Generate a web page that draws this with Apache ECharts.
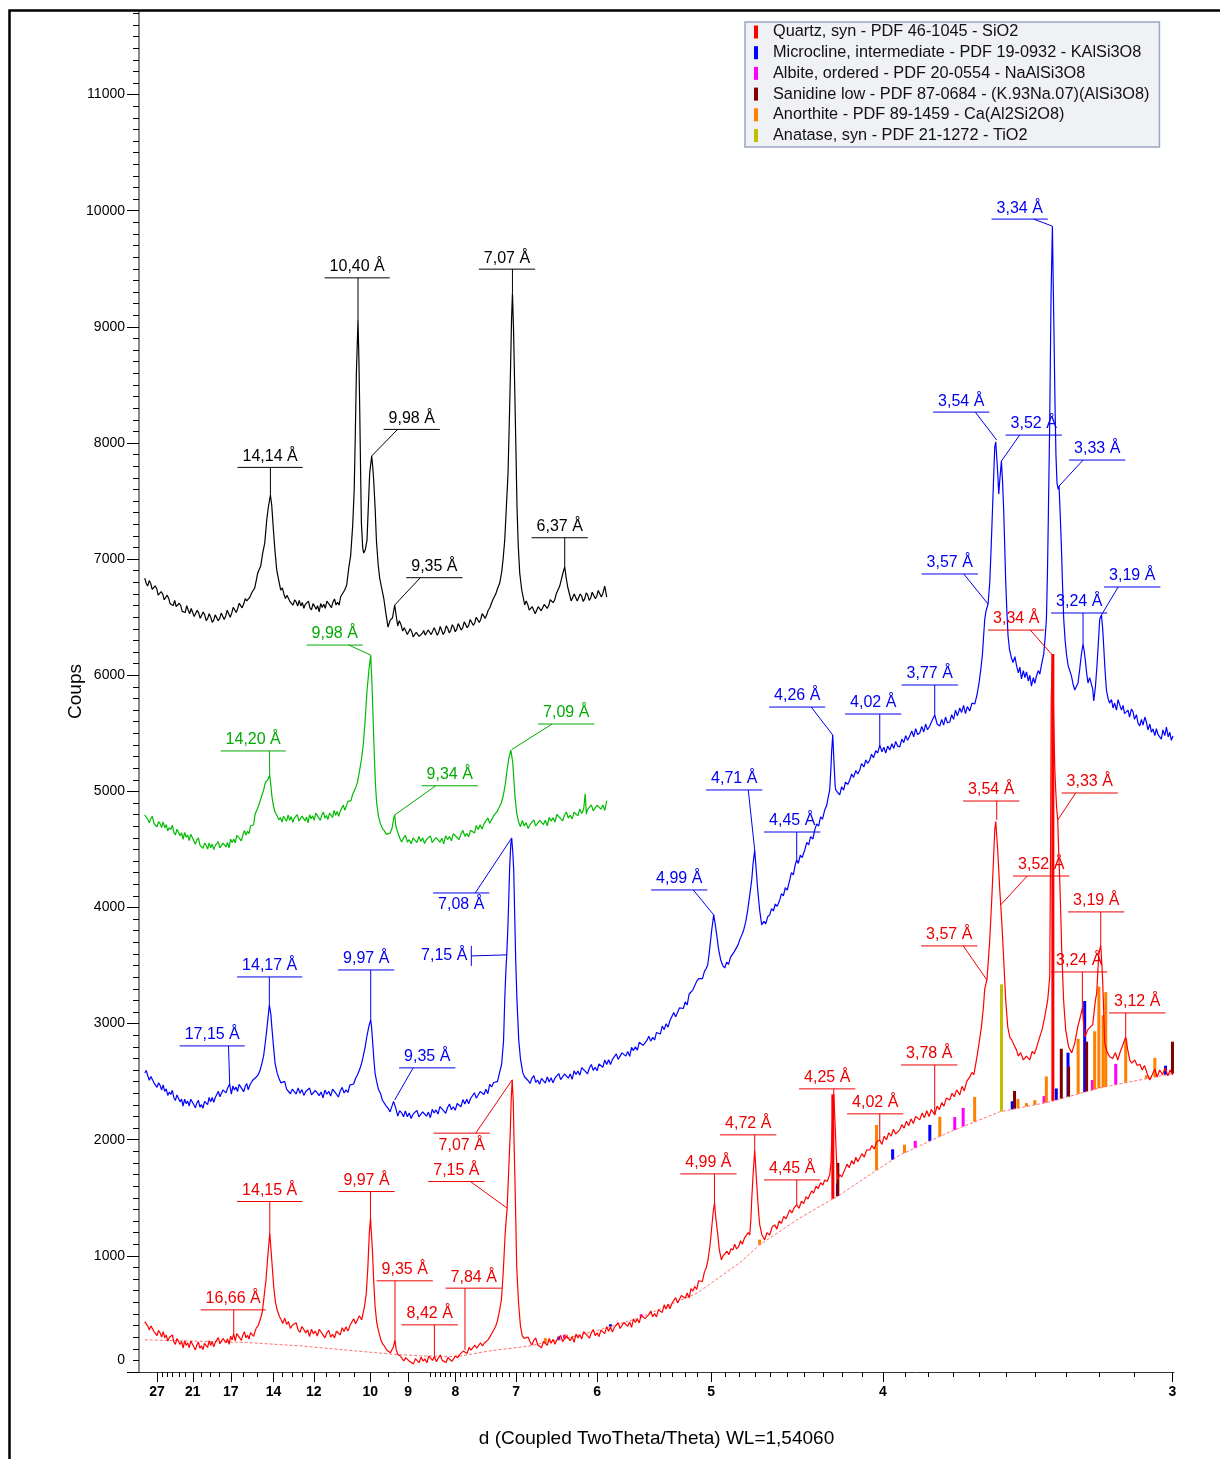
<!DOCTYPE html>
<html><head><meta charset="utf-8">
<script src="https://cdn.jsdelivr.net/npm/echarts@6/dist/echarts.min.js"></script>
<style>html,body{margin:0;padding:0;background:#fff}#c{width:1220px;height:1459px}</style>
</head><body><div id="c"></div>
<script>
// ---------- axis definitions ----------
const WL = 1.5406;
const dMajorTicks = [27,21,17,14,12,10,9,8,7,6,5,4,3];
const dMinorTicks = [26,25,24,23,22,20,19,18,16,15,13.5,13,12.5,11.5,11,10.5,9.5,8.5,8.4,8.3,8.2,8.1,
  7.9,7.8,7.7,7.6,7.5,7.4,7.3,7.2,7.1,6.9,6.8,6.7,6.6,6.5,6.4,6.3,6.2,6.1,
  5.9,5.8,5.7,5.6,5.5,5.4,5.3,5.2,5.1,4.9,4.8,4.7,4.6,4.5,4.4,4.3,4.2,4.1,
  3.9,3.8,3.7,3.6,3.5,3.4,3.3,3.2,3.1];
const yLabelPos = [100,1000,2000,3000,4000,5000,6000,7000,8000,9000,10000,11000];
const yLabelText = ['0','1000','2000','3000','4000','5000','6000','7000','8000','9000','10000','11000'];
const yMajorTicks = [0,1000,2000,3000,4000,5000,6000,7000,8000,9000,10000,11000];

// ---------- measured patterns: [2theta, counts] ----------
const blackPattern = [[2.949,6837],[2.99,6790],[3.027,6770],[3.066,6815],[3.105,6790],[3.144,6740],[3.183,6725],[3.222,6770],[3.262,6745],[3.30,6690],[3.340,6680],[3.379,6720],[3.418,6700],[3.457,6650],[3.497,6645],[3.536,6690],[3.575,6660],[3.614,6615],[3.653,6620],[3.692,6600],[3.731,6645],[3.770,6590],[3.810,6575],[3.849,6620],[3.888,6600],[3.927,6550],[3.966,6565],[4.005,6540],[4.045,6600],[4.084,6560],[4.123,6530],[4.162,6575],[4.201,6560],[4.240,6505],[4.279,6520],[4.318,6560],[4.358,6535],[4.397,6490],[4.436,6505],[4.475,6545],[4.514,6520],[4.553,6470],[4.592,6490],[4.631,6530],[4.671,6500],[4.710,6455],[4.749,6475],[4.788,6520],[4.827,6515],[4.866,6470],[4.906,6490],[4.945,6535],[4.984,6525],[5.023,6480],[5.062,6510],[5.101,6560],[5.140,6545],[5.180,6500],[5.219,6535],[5.258,6585],[5.297,6570],[5.336,6540],[5.375,6575],[5.414,6620],[5.453,6600],[5.492,6580],[5.532,6615],[5.571,6660],[5.610,6640],[5.649,6625],[5.688,6670],[5.727,6700],[5.766,6725],[5.819,6751],[5.897,6880],[5.975,6940],[6.027,7052],[6.080,7138],[6.132,7336],[6.171,7440],[6.228,7552],[6.262,7466],[6.301,7276],[6.341,7095],[6.393,6906],[6.444,6820],[6.497,6734],[6.54,6752],[6.58,6700],[6.62,6660],[6.66,6688],[6.70,6696],[6.74,6633],[6.78,6647],[6.82,6604],[6.86,6649],[6.90,6631],[6.94,6596],[6.98,6645],[7.02,6597],[7.06,6627],[7.10,6577],[7.14,6611],[7.18,6597],[7.22,6639],[7.26,6581],[7.30,6563],[7.34,6617],[7.38,6595],[7.42,6569],[7.46,6599],[7.50,6545],[7.54,6617],[7.58,6584],[7.62,6612],[7.66,6576],[7.70,6639],[7.74,6635],[7.78,6602],[7.82,6582],[7.86,6630],[7.90,6657],[7.94,6605],[7.98,6628],[8.02,6604],[8.06,6676],[8.10,6684],[8.166,6734],[8.218,6777],[8.271,6923],[8.323,7035],[8.375,7293],[8.414,7595],[8.440,8025],[8.471,8602],[8.513,9058],[8.537,8714],[8.557,8309],[8.584,7681],[8.602,7311],[8.636,7095],[8.662,7052],[8.701,7078],[8.748,7164],[8.779,7423],[8.818,7741],[8.870,7888],[8.896,7802],[8.922,7681],[8.962,7423],[8.993,7164],[9.040,6949],[9.079,6837],[9.124,6760],[9.184,6665],[9.236,6544],[9.296,6415],[9.353,6475],[9.411,6493],[9.471,6605],[9.510,6510],[9.549,6424],[9.59,6470],[9.630,6440],[9.679,6380],[9.72,6410],[9.758,6395],[9.80,6350],[9.836,6360],[9.875,6400],[9.914,6375],[9.953,6330],[9.993,6325],[10.032,6370],[10.071,6380],[10.110,6335],[10.149,6320],[10.188,6360],[10.227,6385],[10.266,6345],[10.306,6330],[10.345,6390],[10.384,6400],[10.423,6350],[10.462,6365],[10.501,6410],[10.540,6395],[10.580,6345],[10.619,6370],[10.658,6420],[10.697,6385],[10.736,6350],[10.775,6375],[10.814,6425],[10.853,6405],[10.893,6365],[10.932,6385],[10.971,6435],[11.010,6415],[11.049,6375],[11.088,6395],[11.127,6445],[11.167,6430],[11.206,6390],[11.245,6410],[11.284,6460],[11.323,6450],[11.362,6410],[11.401,6430],[11.440,6480],[11.480,6465],[11.519,6430],[11.558,6450],[11.597,6500],[11.636,6490],[11.675,6455],[11.714,6480],[11.753,6530],[11.793,6515],[11.832,6490],[11.871,6520],[11.910,6560],[11.949,6579],[12.027,6648],[12.106,6699],[12.158,6751],[12.210,6794],[12.262,6889],[12.301,7009],[12.341,7164],[12.380,7423],[12.427,7741],[12.458,8154],[12.490,8602],[12.518,9058],[12.542,9290],[12.571,8972],[12.602,8456],[12.633,7939],[12.661,7449],[12.693,7121],[12.732,6880],[12.784,6734],[12.862,6605],[12.90,6640],[12.940,6610],[12.980,6560],[13.019,6545],[13.058,6590],[13.097,6575],[13.136,6530],[13.175,6540],[13.214,6590],[13.253,6600],[13.292,6555],[13.332,6560],[13.371,6610],[13.410,6615],[13.449,6575],[13.488,6600],[13.527,6650],[13.566,6660],[13.605,6625],[13.645,6650],[13.684,6700],[13.723,6730],[13.775,6768],[13.827,6837],[13.866,6889],[13.906,6932],[13.945,6837],[13.984,6760],[14.036,6691],[14.075,6640],[14.114,6655],[14.153,6700],[14.193,6690],[14.232,6640],[14.271,6650],[14.310,6700],[14.349,6680],[14.388,6635],[14.428,6660],[14.467,6710],[14.506,6690],[14.545,6645],[14.584,6665],[14.623,6715],[14.662,6705],[14.701,6660],[14.741,6680],[14.780,6730],[14.819,6720],[14.858,6675],[14.897,6700],[14.949,6768],[15.002,6673]];

const greenPattern = [[2.949,4797],[2.99,4802],[3.03,4760],[3.07,4729],[3.11,4767],[3.15,4785],[3.19,4723],[3.23,4737],[3.27,4695],[3.31,4740],[3.35,4722],[3.39,4688],[3.43,4738],[3.47,4688],[3.51,4713],[3.55,4659],[3.59,4689],[3.63,4671],[3.67,4709],[3.71,4647],[3.75,4624],[3.79,4674],[3.83,4648],[3.87,4618],[3.91,4644],[3.95,4586],[3.99,4647],[4.03,4605],[4.07,4623],[4.11,4577],[4.15,4631],[4.19,4616],[4.23,4574],[4.27,4544],[4.31,4582],[4.35,4600],[4.39,4537],[4.43,4551],[4.47,4509],[4.51,4555],[4.55,4537],[4.59,4503],[4.63,4557],[4.67,4514],[4.71,4546],[4.75,4499],[4.79,4535],[4.83,4524],[4.87,4568],[4.91,4513],[4.95,4497],[4.99,4554],[5.03,4539],[5.07,4521],[5.11,4560],[5.15,4514],[5.19,4588],[5.23,4559],[5.27,4589],[5.31,4556],[5.35,4622],[5.39,4620],[5.43,4591],[5.47,4573],[5.51,4626],[5.55,4664],[5.59,4623],[5.63,4657],[5.67,4635],[5.71,4702],[5.75,4704],[5.79,4713],[5.83,4806],[5.87,4798],[5.91,4867],[5.95,4856],[6.00,4960],[6.05,5010],[6.10,5080],[6.157,5098],[6.209,5141],[6.24,5050],[6.27,4950],[6.31,4870],[6.35,4820],[6.40,4790],[6.45,4755],[6.49,4773],[6.53,4736],[6.57,4786],[6.61,4773],[6.65,4743],[6.69,4798],[6.73,4752],[6.77,4783],[6.81,4734],[6.85,4769],[6.89,4756],[6.93,4800],[6.97,4744],[7.01,4728],[7.05,4786],[7.09,4768],[7.13,4745],[7.17,4779],[7.21,4728],[7.25,4798],[7.29,4764],[7.33,4789],[7.37,4751],[7.41,4812],[7.45,4806],[7.49,4772],[7.53,4750],[7.57,4796],[7.61,4823],[7.65,4769],[7.69,4792],[7.73,4758],[7.77,4812],[7.81,4803],[7.85,4777],[7.89,4836],[7.93,4794],[7.97,4828],[8.01,4784],[8.05,4830],[8.09,4828],[8.13,4882],[8.17,4836],[8.21,4831],[8.25,4914],[8.29,4919],[8.33,4920],[8.37,4972],[8.40,4970],[8.45,5030],[8.50,5080],[8.55,5170],[8.60,5270],[8.65,5400],[8.70,5615],[8.75,5873],[8.80,6050],[8.845,6174],[8.88,5900],[8.91,5600],[8.94,5300],[8.97,5050],[9.00,4900],[9.05,4780],[9.10,4720],[9.15,4680],[9.20,4660],[9.25,4630],[9.30,4625],[9.35,4640],[9.40,4680],[9.44,4760],[9.471,4797],[9.50,4700],[9.55,4648],[9.60,4600],[9.65,4565],[9.70,4597],[9.75,4621],[9.80,4564],[9.85,4584],[9.90,4548],[9.95,4599],[10.00,4587],[10.05,4558],[10.10,4613],[10.15,4568],[10.20,4600],[10.25,4551],[10.30,4586],[10.35,4573],[10.40,4617],[10.45,4560],[10.50,4543],[10.55,4602],[10.60,4584],[10.65,4563],[10.70,4597],[10.75,4548],[10.80,4618],[10.85,4585],[10.90,4611],[10.95,4574],[11.00,4636],[11.05,4634],[11.10,4603],[11.15,4585],[11.20,4634],[11.25,4664],[11.30,4613],[11.35,4639],[11.40,4608],[11.45,4666],[11.50,4659],[11.55,4641],[11.60,4706],[11.65,4672],[11.70,4713],[11.75,4675],[11.80,4720],[11.85,4718],[11.90,4771],[11.95,4725],[12.00,4718],[12.05,4789],[12.10,4780],[12.15,4830],[12.20,4840],[12.25,4900],[12.30,4960],[12.35,5050],[12.40,5180],[12.45,5290],[12.50,5356],[12.523,5360],[12.55,5250],[12.58,5100],[12.61,4950],[12.65,4820],[12.70,4740],[12.75,4696],[12.80,4749],[12.85,4702],[12.90,4731],[12.95,4680],[13.00,4713],[13.05,4705],[13.10,4754],[13.15,4702],[13.20,4690],[13.25,4750],[13.30,4735],[13.35,4715],[13.40,4751],[13.45,4703],[13.50,4776],[13.55,4744],[13.60,4772],[13.65,4736],[13.70,4801],[13.75,4797],[13.80,4765],[13.85,4745],[13.90,4794],[13.95,4822],[14.00,4770],[14.05,4795],[14.10,4763],[14.15,4820],[14.20,4812],[14.25,4789],[14.30,4849],[14.35,4810],[14.40,4846],[14.44,4980],[14.47,4804],[14.50,4843],[14.55,4836],[14.60,4884],[14.65,4833],[14.70,4821],[14.75,4882],[14.80,4866],[14.85,4847],[14.90,4883],[14.95,4836],[15.002,4920]];

const bluePattern = [[2.949,2575],[2.99,2596],[3.03,2549],[3.07,2513],[3.11,2545],[3.15,2558],[3.19,2490],[3.23,2499],[3.27,2451],[3.31,2491],[3.35,2468],[3.39,2428],[3.43,2472],[3.47,2417],[3.51,2438],[3.55,2382],[3.59,2410],[3.63,2390],[3.67,2426],[3.71,2362],[3.75,2338],[3.79,2386],[3.83,2358],[3.87,2326],[3.91,2350],[3.95,2290],[3.99,2350],[4.03,2311],[4.07,2333],[4.11,2291],[4.15,2349],[4.19,2339],[4.23,2301],[4.27,2275],[4.31,2317],[4.35,2339],[4.39,2281],[4.43,2302],[4.47,2272],[4.51,2330],[4.55,2324],[4.59,2302],[4.63,2364],[4.67,2326],[4.71,2364],[4.75,2322],[4.79,2364],[4.83,2364],[4.87,2417],[4.91,2370],[4.95,2364],[4.99,2429],[5.03,2418],[5.07,2404],[5.11,2443],[5.166,2480],[5.21,2393],[5.25,2463],[5.29,2428],[5.33,2454],[5.37,2415],[5.41,2477],[5.45,2470],[5.49,2436],[5.53,2413],[5.57,2459],[5.61,2484],[5.65,2430],[5.69,2469],[5.76,2510],[5.81,2500],[5.86,2540],[5.91,2560],[5.96,2600],[6.00,2650],[6.05,2720],[6.10,2850],[6.15,3000],[6.20,3161],[6.24,3080],[6.27,2950],[6.31,2800],[6.35,2660],[6.40,2580],[6.45,2530],[6.50,2490],[6.55,2490],[6.60,2503],[6.65,2435],[6.70,2443],[6.75,2396],[6.80,2436],[6.85,2422],[6.90,2393],[6.95,2447],[7.00,2401],[7.05,2432],[7.10,2382],[7.15,2416],[7.20,2403],[7.25,2445],[7.30,2387],[7.35,2370],[7.40,2424],[7.45,2404],[7.50,2380],[7.55,2412],[7.60,2360],[7.65,2428],[7.70,2392],[7.75,2416],[7.80,2376],[7.85,2436],[7.90,2428],[7.95,2392],[8.00,2368],[8.05,2420],[8.10,2451],[8.15,2403],[8.20,2430],[8.25,2407],[8.30,2471],[8.35,2472],[8.40,2480],[8.45,2530],[8.50,2560],[8.55,2600],[8.60,2650],[8.65,2720],[8.70,2800],[8.75,2900],[8.80,2980],[8.845,3032],[8.87,2960],[8.90,2820],[8.93,2680],[8.96,2570],[9.00,2500],[9.05,2430],[9.10,2400],[9.15,2340],[9.20,2350],[9.25,2290],[9.30,2270],[9.35,2240],[9.40,2290],[9.44,2330],[9.471,2343],[9.50,2270],[9.55,2204],[9.60,2250],[9.65,2232],[9.70,2198],[9.75,2248],[9.80,2198],[9.85,2231],[9.90,2183],[9.95,2220],[10.00,2209],[10.05,2253],[10.10,2198],[10.15,2182],[10.20,2239],[10.25,2223],[10.30,2203],[10.35,2238],[10.40,2190],[10.45,2262],[10.50,2230],[10.55,2257],[10.60,2221],[10.65,2285],[10.70,2281],[10.75,2248],[10.80,2228],[10.85,2278],[10.90,2308],[10.95,2258],[11.00,2284],[11.05,2254],[11.10,2312],[11.15,2306],[11.20,2284],[11.25,2346],[11.30,2308],[11.35,2349],[11.40,2310],[11.45,2355],[11.50,2352],[11.55,2405],[11.60,2358],[11.65,2351],[11.70,2416],[11.75,2405],[11.80,2390],[11.85,2435],[11.90,2397],[11.95,2478],[12.00,2455],[12.05,2493],[12.10,2510],[12.15,2500],[12.20,2570],[12.26,2650],[12.31,2850],[12.341,3204],[12.37,3450],[12.393,3592],[12.42,3800],[12.445,4065],[12.47,4350],[12.50,4550],[12.523,4599],[12.55,4480],[12.575,4323],[12.60,3950],[12.627,3548],[12.66,3200],[12.706,2860],[12.75,2700],[12.81,2580],[12.86,2540],[12.90,2547],[12.95,2510],[13.00,2485],[13.05,2529],[13.10,2552],[13.15,2495],[13.20,2514],[13.25,2477],[13.30,2529],[13.35,2516],[13.40,2487],[13.45,2542],[13.50,2498],[13.55,2534],[13.60,2490],[13.65,2530],[13.70,2522],[13.75,2570],[13.80,2518],[13.85,2506],[13.90,2566],[13.95,2550],[14.00,2530],[14.05,2567],[14.10,2520],[14.15,2593],[14.20,2562],[14.25,2591],[14.30,2556],[14.35,2621],[14.40,2618],[14.45,2587],[14.50,2568],[14.55,2618],[14.60,2648],[14.65,2598],[14.70,2624],[14.75,2594],[14.80,2652],[14.85,2646],[14.90,2624],[14.95,2686],[15.00,2648],[15.05,2688],[15.10,2648],[15.15,2692],[15.20,2688],[15.25,2740],[15.30,2692],[15.35,2684],[15.40,2748],[15.45,2736],[15.50,2720],[15.55,2761],[15.60,2718],[15.65,2795],[15.70,2768],[15.75,2801],[15.80,2770],[15.85,2839],[15.90,2840],[15.95,2813],[16.00,2798],[16.05,2855],[16.10,2892],[16.15,2849],[16.20,2882],[16.25,2859],[16.30,2924],[16.35,2925],[16.40,2910],[16.45,2979],[16.50,2948],[16.55,2999],[16.60,2970],[16.65,3025],[16.70,3032],[16.75,3095],[16.80,3058],[16.85,3061],[16.90,3136],[16.95,3135],[17.00,3130],[17.05,3187],[17.10,3160],[17.15,3253],[17.20,3242],[17.25,3291],[17.30,3276],[17.35,3366],[17.40,3388],[17.45,3382],[17.50,3388],[17.55,3450],[17.59,3470],[17.636,3505],[17.68,3620],[17.741,3807],[17.793,3936],[17.83,3860],[17.871,3764],[17.92,3640],[17.975,3548],[18.03,3500],[18.08,3479],[18.13,3530],[18.18,3510],[18.23,3570],[18.28,3560],[18.33,3620],[18.38,3610],[18.43,3680],[18.47,3721],[18.52,3760],[18.57,3800],[18.63,3880],[18.68,3979],[18.73,4100],[18.784,4237],[18.82,4380],[18.862,4495],[18.90,4330],[18.941,4151],[18.99,3980],[19.045,3850],[19.10,3880],[19.15,3860],[19.20,3920],[19.254,3936],[19.30,3990],[19.35,3970],[19.40,4030],[19.45,4010],[19.515,4065],[19.56,4120],[19.61,4100],[19.66,4170],[19.71,4150],[19.776,4237],[19.82,4300],[19.87,4280],[19.92,4370],[19.958,4409],[20.00,4380],[20.05,4450],[20.10,4430],[20.167,4495],[20.22,4560],[20.27,4540],[20.32,4610],[20.38,4590],[20.428,4668],[20.48,4720],[20.53,4700],[20.58,4780],[20.63,4760],[20.689,4840],[20.74,4880],[20.78,4950],[20.819,5012],[20.85,5200],[20.87,5350],[20.898,5485],[20.93,5250],[20.96,5050],[20.976,5012],[21.03,4990],[21.08,4969],[21.13,5040],[21.18,5010],[21.23,5080],[21.29,5060],[21.341,5098],[21.39,5150],[21.44,5120],[21.50,5180],[21.55,5150],[21.602,5184],[21.65,5240],[21.71,5210],[21.76,5270],[21.81,5240],[21.863,5270],[21.91,5320],[21.96,5290],[22.02,5350],[22.07,5330],[22.124,5399],[22.18,5340],[22.23,5380],[22.28,5330],[22.33,5390],[22.385,5356],[22.44,5410],[22.49,5370],[22.54,5430],[22.59,5390],[22.645,5382],[22.70,5450],[22.75,5420],[22.80,5480],[22.85,5440],[22.906,5477],[22.96,5520],[23.01,5470],[23.06,5540],[23.11,5490],[23.167,5503],[23.22,5560],[23.27,5510],[23.32,5580],[23.37,5530],[23.428,5563],[23.49,5610],[23.558,5658],[23.62,5580],[23.689,5563],[23.74,5620],[23.79,5570],[23.84,5640],[23.89,5590],[23.950,5597],[24.00,5660],[24.05,5620],[24.10,5700],[24.15,5650],[24.211,5718],[24.26,5680],[24.31,5740],[24.36,5670],[24.41,5730],[24.472,5692],[24.53,5760],[24.602,5752],[24.66,5830],[24.714,5933],[24.76,6050],[24.803,6183],[24.863,6484],[24.90,6560],[24.949,6613],[24.993,6794],[25.03,7100],[25.064,7414],[25.10,7750],[25.124,7965],[25.15,8010],[25.176,8025],[25.20,7750],[25.228,7560],[25.26,7700],[25.298,7844],[25.33,7650],[25.358,7414],[25.385,7100],[25.411,6794],[25.44,6550],[25.471,6338],[25.51,6220],[25.559,6149],[25.60,6110],[25.65,6160],[25.690,6088],[25.74,6020],[25.78,6070],[25.821,5968],[25.87,6040],[25.91,5980],[25.951,6028],[26.00,5950],[26.04,6000],[26.081,5907],[26.13,5980],[26.17,5930],[26.212,5994],[26.26,6040],[26.30,6010],[26.342,6088],[26.38,6150],[26.402,6183],[26.44,6330],[26.472,6484],[26.50,6900],[26.524,7414],[26.558,8180],[26.592,9256],[26.628,9867],[26.662,9101],[26.696,8335],[26.72,7900],[26.748,7655],[26.78,7600],[26.801,7629],[26.83,7400],[26.863,7104],[26.89,6800],[26.923,6484],[26.96,6300],[26.994,6183],[27.04,6080],[27.08,6040],[27.124,5994],[27.17,5920],[27.210,5873],[27.25,5900],[27.296,5933],[27.34,6050],[27.385,6183],[27.427,6269],[27.46,6200],[27.489,6123],[27.52,6020],[27.557,5933],[27.60,5980],[27.646,5994],[27.68,5880],[27.706,5778],[27.75,5900],[27.792,6088],[27.83,6300],[27.863,6484],[27.907,6518],[27.94,6400],[27.967,6243],[28.00,6050],[28.037,5873],[28.08,5800],[28.12,5760],[28.17,5790],[28.209,5718],[28.25,5760],[28.30,5700],[28.34,5790],[28.384,5778],[28.43,5700],[28.47,5740],[28.51,5670],[28.559,5658],[28.60,5700],[28.64,5640],[28.69,5710],[28.731,5684],[28.77,5620],[28.82,5660],[28.86,5590],[28.906,5563],[28.95,5620],[28.99,5570],[29.04,5640],[29.080,5597],[29.12,5530],[29.17,5580],[29.21,5510],[29.252,5537],[29.30,5480],[29.34,5540],[29.38,5490],[29.427,5503],[29.47,5450],[29.51,5530],[29.56,5480],[29.602,5554],[29.65,5470],[29.69,5510],[29.73,5440],[29.774,5477]];

const redPattern = [[2.949,434],[2.99,439],[3.03,395],[3.07,362],[3.11,397],[3.15,412],[3.19,348],[3.23,359],[3.27,314],[3.31,357],[3.35,337],[3.39,300],[3.43,347],[3.47,295],[3.51,319],[3.55,266],[3.59,297],[3.63,280],[3.67,320],[3.71,259],[3.75,238],[3.79,289],[3.83,264],[3.87,236],[3.91,263],[3.95,206],[3.99,269],[4.03,229],[4.07,251],[4.11,209],[4.15,266],[4.19,255],[4.23,217],[4.27,190],[4.31,232],[4.35,258],[4.39,204],[4.43,226],[4.47,192],[4.51,246],[4.55,237],[4.59,211],[4.63,270],[4.67,228],[4.71,262],[4.75,217],[4.79,255],[4.83,248],[4.87,296],[4.91,243],[4.95,230],[4.99,289],[5.03,272],[5.07,251],[5.11,286],[5.15,238],[5.19,309],[5.23,276],[5.271,330],[5.31,267],[5.35,330],[5.39,325],[5.43,292],[5.47,272],[5.51,319],[5.55,346],[5.59,293],[5.63,316],[5.67,284],[5.71,339],[5.75,330],[5.79,306],[5.814,335],[5.86,380],[5.91,400],[5.96,450],[6.014,510],[6.06,640],[6.113,794],[6.16,1000],[6.212,1196],[6.26,980],[6.314,736],[6.36,600],[6.40,540],[6.463,478],[6.51,450],[6.55,417],[6.60,464],[6.65,411],[6.70,433],[6.75,376],[6.80,403],[6.85,386],[6.90,424],[6.95,363],[7.00,341],[7.05,392],[7.10,366],[7.15,337],[7.20,363],[7.25,306],[7.30,368],[7.35,330],[7.40,352],[7.45,310],[7.50,368],[7.55,358],[7.60,320],[7.65,294],[7.70,336],[7.75,358],[7.80,300],[7.85,325],[7.90,294],[7.95,351],[8.00,344],[8.05,321],[8.10,382],[8.15,348],[8.20,390],[8.25,352],[8.30,398],[8.35,400],[8.40,458],[8.45,416],[8.50,414],[8.55,484],[8.610,449],[8.68,560],[8.730,679],[8.77,900],[8.808,1196],[8.839,1325],[8.87,1150],[8.889,1052],[8.92,800],[8.959,564],[9.00,430],[9.05,350],[9.108,277],[9.16,240],[9.21,220],[9.26,190],[9.309,176],[9.36,165],[9.408,162],[9.44,220],[9.478,277],[9.51,190],[9.557,148],[9.61,140],[9.66,118],[9.71,96],[9.76,124],[9.81,132],[9.86,90],[9.91,104],[9.96,70],[10.01,115],[10.06,102],[10.107,80],[10.16,128],[10.21,94],[10.26,112],[10.31,80],[10.36,136],[10.41,122],[10.46,100],[10.506,133],[10.56,88],[10.61,122],[10.66,146],[10.71,100],[10.76,112],[10.81,82],[10.86,125],[10.91,118],[10.96,92],[11.01,108],[11.06,140],[11.11,122],[11.16,150],[11.21,135],[11.26,180],[11.304,191],[11.36,160],[11.41,212],[11.46,188],[11.51,200],[11.56,232],[11.61,205],[11.66,218],[11.71,252],[11.76,225],[11.81,250],[11.86,262],[11.904,277],[11.95,300],[12.00,330],[12.05,360],[12.102,392],[12.15,440],[12.20,520],[12.254,622],[12.30,850],[12.353,1196],[12.403,1411],[12.44,1700],[12.484,2057],[12.51,2350],[12.536,2516],[12.562,2343],[12.58,2050],[12.601,1741],[12.63,1300],[12.653,908],[12.70,600],[12.752,392],[12.80,310],[12.85,290],[12.901,277],[12.95,301],[13.00,261],[13.05,233],[13.10,273],[13.15,293],[13.20,233],[13.25,249],[13.30,209],[13.35,264],[13.40,255],[13.45,230],[13.50,289],[13.55,248],[13.60,283],[13.65,238],[13.70,277],[13.75,268],[13.80,315],[13.85,262],[13.90,249],[13.95,308],[14.00,291],[14.05,270],[14.10,305],[14.15,256],[14.20,327],[14.25,294],[14.30,321],[14.35,285],[14.40,348],[14.45,344],[14.50,311],[14.55,291],[14.60,338],[14.65,366],[14.70,313],[14.75,337],[14.80,304],[14.85,361],[14.90,353],[14.95,330],[15.00,390],[15.05,351],[15.10,387],[15.15,344],[15.20,384],[15.25,377],[15.30,425],[15.35,375],[15.40,364],[15.45,426],[15.50,411],[15.55,393],[15.60,430],[15.65,384],[15.70,457],[15.75,427],[15.80,456],[15.85,423],[15.90,490],[15.95,489],[16.00,460],[16.05,443],[16.10,494],[16.15,525],[16.20,476],[16.25,503],[16.30,474],[16.35,535],[16.40,532],[16.45,513],[16.50,578],[16.55,543],[16.60,584],[16.65,545],[16.70,590],[16.75,587],[16.80,640],[16.85,595],[16.90,591],[16.95,658],[17.00,649],[17.05,636],[17.10,680],[17.15,639],[17.20,718],[17.25,697],[17.30,736],[17.35,711],[17.40,786],[17.45,793],[17.495,779],[17.55,860],[17.60,900],[17.644,966],[17.70,1100],[17.743,1253],[17.78,1380],[17.813,1454],[17.85,1320],[17.894,1196],[17.94,1050],[17.993,966],[18.04,1000],[18.092,994],[18.14,1040],[18.19,1010],[18.24,1060],[18.293,1052],[18.34,1100],[18.39,1060],[18.444,1080],[18.49,1130],[18.54,1100],[18.59,1150],[18.64,1140],[18.69,1200],[18.732,1181],[18.76,1300],[18.784,1482],[18.82,1700],[18.862,1912],[18.90,1700],[18.941,1482],[18.97,1350],[18.993,1267],[19.05,1180],[19.123,1138],[19.18,1200],[19.25,1180],[19.32,1250],[19.384,1267],[19.44,1230],[19.50,1300],[19.56,1280],[19.62,1340],[19.68,1320],[19.776,1396],[19.83,1370],[19.90,1420],[19.958,1439],[20.02,1410],[20.08,1470],[20.14,1450],[20.20,1510],[20.25,1490],[20.297,1525],[20.35,1560],[20.40,1540],[20.46,1600],[20.52,1580],[20.58,1630],[20.64,1610],[20.689,1654],[20.75,1640],[20.819,1698],[20.85,1800],[20.872,1998],[20.90,2250],[20.924,2404],[20.95,2200],[20.976,1998],[21.00,1800],[21.028,1654],[21.08,1700],[21.13,1680],[21.211,1741],[21.27,1790],[21.33,1760],[21.39,1820],[21.45,1790],[21.50,1850],[21.55,1810],[21.602,1826],[21.66,1880],[21.72,1850],[21.78,1910],[21.863,1912],[21.92,1950],[21.98,1920],[22.04,1980],[22.124,1998],[22.18,1960],[22.24,2030],[22.30,2000],[22.36,2060],[22.42,2030],[22.48,2090],[22.54,2050],[22.645,2085],[22.70,2130],[22.76,2100],[22.82,2160],[22.88,2120],[22.94,2180],[23.00,2140],[23.06,2200],[23.167,2171],[23.23,2230],[23.29,2190],[23.35,2250],[23.41,2200],[23.47,2260],[23.558,2214],[23.62,2290],[23.68,2260],[23.74,2320],[23.80,2290],[23.86,2360],[23.950,2343],[24.01,2400],[24.07,2370],[24.13,2430],[24.211,2386],[24.27,2460],[24.33,2420],[24.39,2500],[24.472,2541],[24.53,2580],[24.58,2560],[24.646,2687],[24.70,2800],[24.777,2972],[24.83,3150],[24.863,3300],[24.92,3376],[24.99,3700],[25.045,4065],[25.09,4400],[25.124,4668],[25.150,4740],[25.176,4754],[25.20,4500],[25.228,4323],[25.255,4150],[25.280,4022],[25.32,3800],[25.358,3548],[25.41,3200],[25.463,2972],[25.52,2880],[25.567,2860],[25.62,2820],[25.690,2774],[25.74,2720],[25.80,2750],[25.87,2687],[25.95,2720],[26.037,2687],[26.10,2760],[26.16,2740],[26.22,2800],[26.298,2886],[26.36,2950],[26.428,3058],[26.506,3204],[26.558,3403],[26.58,4500],[26.597,5787],[26.628,6174],[26.662,5614],[26.69,5200],[26.714,5012],[26.74,4850],[26.767,4754],[26.79,4500],[26.819,4237],[26.845,3950],[26.871,3634],[26.92,3200],[26.975,2946],[27.05,2800],[27.132,2748],[27.21,2830],[27.289,2972],[27.35,3050],[27.41,3135],[27.471,2886],[27.52,2920],[27.549,2946],[27.62,2972],[27.680,2990],[27.75,3200],[27.784,3264],[27.836,3591],[27.889,3677],[27.92,3500],[27.941,3350],[27.993,2834],[28.05,2760],[28.123,2714],[28.20,2700],[28.27,2750],[28.332,2687],[28.40,2760],[28.47,2820],[28.540,2886],[28.59,2780],[28.645,2687],[28.70,2660],[28.775,2687],[28.84,2640],[28.91,2650],[28.97,2600],[29.03,2640],[29.10,2570],[29.166,2515],[29.23,2560],[29.30,2610],[29.36,2540],[29.427,2601],[29.50,2560],[29.57,2620],[29.64,2550],[29.70,2600],[29.766,2558]];

const redBackground = [[2.949,277],[5.61,254],[7.00,225],[9.31,156],[10.12,139],[11.10,133],[11.95,182],[12.90,220],[13.78,277],[14.82,363],[15.86,467],[17.36,679],[18.47,940],[18.99,1095],[20.04,1327],[21.08,1525],[21.86,1698],[22.65,1869],[23.95,2068],[25.25,2240],[26.56,2326],[27.86,2446],[28.99,2520],[29.77,2570]];

// ---------- reference patterns (sticks): [2theta, intensity above background] ----------
const phaseNames = ['Quartz, syn - PDF 46-1045 - SiO2','Microcline, intermediate - PDF 19-0932 - KAlSi3O8','Albite, ordered - PDF 20-0554 - NaAlSi3O8','Sanidine low - PDF 87-0684 - (K.93Na.07)(AlSi3O8)','Anorthite - PDF 89-1459 - Ca(Al2Si2O8)','Anatase, syn - PDF 21-1272 - TiO2'];
const phaseColors = ['#ff0000','#0000ff','#ff00ff','#800000','#ff8000','#c0c000'];
const quartzSticks = [[20.90,900],[26.64,3850]];
const microclineSticks = [[13.75,30],[15.10,20],[21.02,110],[22.46,90],[23.43,140],[25.58,70],[26.73,100],[27.035,380],[27.47,785],[29.58,80]];
const albiteSticks = [[13.90,35],[15.90,25],[23.05,60],[24.08,110],[24.30,160],[26.41,60],[27.67,86],[28.28,180]];
const sanidineSticks = [[21.03,285],[25.64,155],[26.86,430],[27.05,260],[27.52,430],[29.76,275]];
const anorthiteSticks = [[13.40,40],[13.95,30],[18.99,45],[22.04,390],[22.77,70],[23.69,170],[24.60,215],[25.73,80],[25.95,30],[26.17,40],[26.47,225],[27.30,475],[27.73,500],[27.84,875],[27.95,620],[28.02,815],[28.54,380],[29.08,30],[29.30,165]];
const anataseSticks = [[25.30,1095]];

// ---------- peak labels: [text, peak 2theta, peak counts, label 2theta, label counts, placement] ----------
const blackLabels = [['14,14 Å',6.228,7552,6.220,7790],['10,40 Å',8.513,9058,8.492,9422],['9,98 Å',8.870,7888,9.914,8117],['9,35 Å',9.471,6605,10.506,6840],['7,07 Å',12.542,9290,12.400,9497],['6,37 Å',13.906,6932,13.775,7184]];
const greenLabels = [['14,20 Å',6.209,5141,5.779,5348],['9,98 Å',8.845,6174,7.905,6260],['9,34 Å',9.471,4797,10.906,5048],['7,09 Å',12.523,5360,13.944,5580]];
const blueLabels = [['17,15 Å',5.166,2480,4.710,2808],['14,17 Å',6.20,3161,6.209,3402],['9,97 Å',8.845,3032,8.727,3462],['9,35 Å',9.471,2343,10.318,2619],['7,08 Å',12.523,4599,11.205,4125,'below'],['7,15 Å',12.393,3592,11.469,3583,'side'],['4,99 Å',17.793,3936,16.893,4151],['4,71 Å',18.862,4495,18.327,5012],['4,45 Å',19.958,4409,19.840,4650],['4,26 Å',20.898,5485,19.970,5726],['4,02 Å',22.124,5399,21.953,5666],['3,77 Å',23.558,5658,23.428,5916],['3,57 Å',24.949,6613,23.950,6872],['3,54 Å',25.176,8025,24.249,8266],['3,52 Å',25.298,7844,26.140,8068],['3,34 Å',26.628,9867,25.775,9928],['3,33 Å',26.801,7629,27.797,7853],['3,24 Å',27.427,6269,27.327,6536],['3,19 Å',27.907,6518,28.710,6760]];
const redLabels = [['16,66 Å',5.271,330,5.257,535],['14,15 Å',6.212,1196,6.209,1468],['9,97 Å',8.839,1325,8.735,1554],['9,35 Å',9.478,277,9.731,785],['8,42 Å',10.506,133,10.383,406],['7,84 Å',11.304,191,11.531,722],['7,15 Å',12.403,1411,11.080,1640],['7,07 Å',12.536,2516,11.218,2057,'below'],['4,99 Å',17.813,1454,17.654,1706],['4,72 Å',18.862,1912,18.692,2042],['4,45 Å',19.958,1439,19.840,1654],['4,25 Å',20.924,2404,20.754,2438],['4,02 Å',22.124,1998,22.005,2223],['3,78 Å',23.558,2214,23.414,2644],['3,57 Å',24.92,3376,23.936,3669],['3,54 Å',25.176,4754,25.031,4917],['3,52 Å',25.280,4022,26.336,4271],['3,34 Å',26.628,6174,25.683,6389],['3,33 Å',26.767,4754,27.602,4986],['3,24 Å',27.41,3135,27.327,3445],['3,19 Å',27.889,3677,27.770,3962],['3,12 Å',28.540,2886,28.840,3092]];

// ---------- helpers ----------
const tth = d => 2 * Math.asin(WL / (2 * d)) * 180 / Math.PI;
const toD = t => WL / (2 * Math.sin(t / 2 * Math.PI / 180));
function bgAt(t) {
  const b = redBackground;
  if (t <= b[0][0]) return b[0][1];
  for (let i = 1; i < b.length; i++) {
    if (t <= b[i][0]) { const f = (t - b[i-1][0]) / (b[i][0] - b[i-1][0]); return b[i-1][1] + f * (b[i][1] - b[i-1][1]); }
  }
  return b[b.length - 1][1];
}
const FF = '"Liberation Sans", Arial, Helvetica, sans-serif';
const LFONT = '16px ' + FF;
const mctx = document.createElement('canvas').getContext('2d');
mctx.font = LFONT;

function lineSeries(name, data, color, width, z, type) {
  return { name, type: 'line', data, showSymbol: false, symbol: 'none', silent: true, z,
    lineStyle: { color, width, type: type || 'solid' }, itemStyle: { color }, emphasis: { disabled: true } };
}
function stickSeries(name, sticks, color) {
  return { name, type: 'custom', silent: true, z: 1, itemStyle: { color }, data: sticks,
    renderItem(params, api) {
      const t = api.value(0), h = api.value(1), b = bgAt(t);
      const top = api.coord([t, b + h]), bot = api.coord([t, b]);
      return { type: 'rect', shape: { x: top[0] - 1.5, y: top[1], width: 3, height: bot[1] - top[1] }, style: { fill: color } };
    } };
}
function labelSeries(name, labels, color) {
  return { name, type: 'custom', silent: true, clip: false, z: 6, data: labels.map(l => [l[1], l[2]]),
    renderItem(params, api) {
      const l = labels[params.dataIndex];
      const p = api.coord([l[1], l[2]]);
      const a = api.coord([l[3], l[4]]);
      const mode = l[5] || 'above';
      const tw = mctx.measureText(l[0]).width;
      const st = { stroke: color, lineWidth: 1, fill: null };
      const ch = [];
      if (mode === 'side') {
        ch.push({ type: 'line', shape: { x1: a[0], y1: a[1] - 10, x2: a[0], y2: a[1] + 10 }, style: st });
        ch.push({ type: 'line', shape: { x1: a[0], y1: a[1], x2: p[0], y2: p[1] }, style: st });
        ch.push({ type: 'text', style: { text: l[0], x: a[0] - 4, y: a[1], fill: color, font: LFONT, align: 'right', textAlign: 'right', verticalAlign: 'middle', textVerticalAlign: 'middle' } });
      } else {
        const L = a[0] - tw / 2 - 5, R = a[0] + tw / 2 + 5, q = (R - L) / 4;
        const sx = Math.min(Math.max(p[0], L + q), R - q);
        ch.push({ type: 'line', shape: { x1: L, y1: a[1], x2: R, y2: a[1] }, style: st });
        ch.push({ type: 'line', shape: { x1: sx, y1: a[1], x2: p[0], y2: p[1] }, style: st });
        const below = mode === 'below';
        ch.push({ type: 'text', style: { text: l[0], x: a[0], y: below ? a[1] + 4 : a[1] - 3, fill: color, font: LFONT,
          align: 'center', textAlign: 'center', verticalAlign: below ? 'top' : 'bottom', textVerticalAlign: below ? 'top' : 'bottom' } });
      }
      return { type: 'group', children: ch };
    } };
}

const yMinorTicks = [];
for (let v = 100; v <= 11700; v += 100) if (v % 1000 !== 0) yMinorTicks.push(v);

const stickSets = [quartzSticks, microclineSticks, albiteSticks, sanidineSticks, anorthiteSticks, anataseSticks];

const option = {
  animation: false,
  backgroundColor: '#ffffff',
  grid: { left: 139, right: 46, top: 11, bottom: 87, containLabel: false },
  legend: {
    data: phaseNames, orient: 'vertical', left: 745, top: 22, icon: 'rect', itemWidth: 4, itemHeight: 13, itemGap: 4.7,
    selectedMode: false, backgroundColor: '#eff1f5', borderColor: '#9ba7be', borderWidth: 1.5, borderRadius: 0,
    padding: [2, 10, 3.5, 9],
    textStyle: { fontSize: 16.3, lineHeight: 16, color: '#111', fontFamily: FF, padding: [0, 0, 0, 10] }
  },
  xAxis: [
    { type: 'value', min: 2.8, max: 29.8, position: 'bottom',
      axisLine: { lineStyle: { color: '#333', width: 1 } },
      axisTick: { show: true, customValues: dMajorTicks.map(tth), length: 10, lineStyle: { color: '#000', width: 1 } },
      axisLabel: { customValues: dMajorTicks.map(tth), formatter: v => String(Math.round(toD(v))), margin: 13,
        fontSize: 14, fontWeight: 'bold', color: '#000', fontFamily: FF },
      splitLine: { show: false },
      name: 'd (Coupled TwoTheta/Theta) WL=1,54060', nameLocation: 'middle', nameGap: 57, nameMoveOverlap: false,
      nameTextStyle: { fontSize: 19, color: '#000', fontFamily: FF } },
    { type: 'value', min: 2.8, max: 29.8, position: 'bottom', offset: 0,
      axisLine: { show: false }, axisLabel: { show: false }, splitLine: { show: false },
      axisTick: { show: true, customValues: dMinorTicks.map(tth), length: 5, lineStyle: { color: '#000', width: 1 } } }
  ],
  yAxis: [
    { type: 'value', min: 0, max: 11720, position: 'left',
      axisLine: { show: true, lineStyle: { color: '#8a8a8a', width: 2 } },
      axisTick: { show: true, customValues: yMajorTicks, length: 12, lineStyle: { color: '#000', width: 1 } },
      axisLabel: { customValues: yLabelPos, formatter: v => yLabelText[yLabelPos.indexOf(v)], margin: 14,
        fontSize: 14, color: '#000', fontFamily: FF },
      splitLine: { show: false },
      name: 'Coups', nameLocation: 'middle', nameGap: 54, nameRotate: 90, nameMoveOverlap: false,
      nameTextStyle: { fontSize: 19, color: '#000', fontFamily: FF } },
    { type: 'value', min: 0, max: 11720, position: 'left', offset: 0,
      axisLine: { show: false }, axisLabel: { show: false }, splitLine: { show: false },
      axisTick: { show: true, customValues: yMinorTicks, length: 6, lineStyle: { color: '#000', width: 1 } } }
  ],
  graphic: [
    { type: 'rect', silent: true, z: 100, shape: { x: 9.5, y: 10.5, width: 1400, height: 1600 },
      style: { fill: 'transparent', stroke: '#000', lineWidth: 2.5 } }
  ],
  series: [
    ...phaseNames.map((n, i) => stickSeries(n, stickSets[i], phaseColors[i])),
    lineSeries('Background', redBackground, '#ff7070', 1, 2, [3, 2]),
    lineSeries('Red', redPattern, '#ff0000', 1.2, 3),
    lineSeries('Blue', bluePattern, '#0000ff', 1.2, 3),
    lineSeries('Green', greenPattern, '#00bb00', 1.2, 3),
    lineSeries('Black', blackPattern, '#000000', 1.2, 3),
    labelSeries('RedLabels', redLabels, '#ee0000'),
    labelSeries('BlueLabels', blueLabels, '#0000ee'),
    labelSeries('GreenLabels', greenLabels, '#00aa00'),
    labelSeries('BlackLabels', blackLabels, '#000000')
  ]
};
const chart = echarts.init(document.getElementById('c'), null, { renderer: 'canvas' });
chart.setOption(option);
</script>
</body></html>
